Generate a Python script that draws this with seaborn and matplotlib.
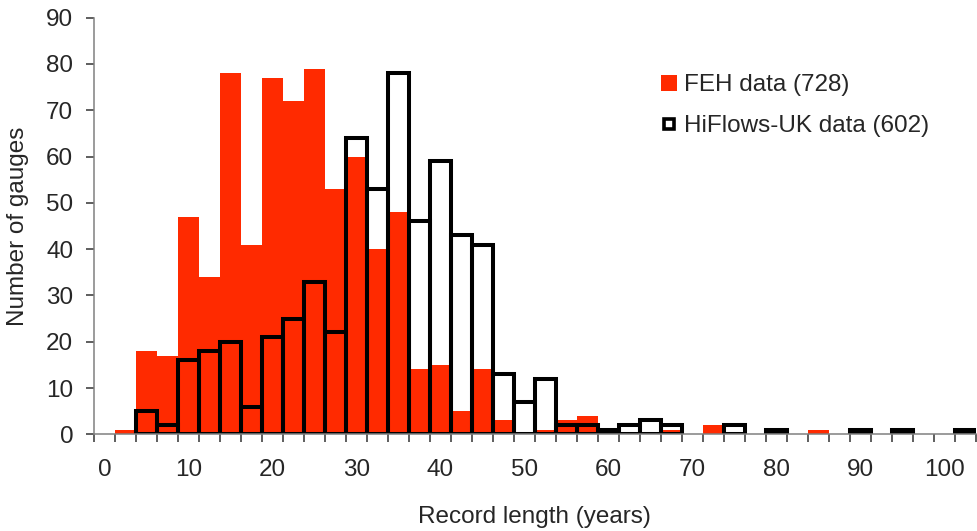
import matplotlib.pyplot as plt
from matplotlib.lines import Line2D
import numpy as np
import pandas as pd
import seaborn as sns

# Record-length classes (years), 2.5-year bins
record_length = [0.0, 2.5, 5.0, 7.5, 10.0, 12.5, 15.0, 17.5, 20.0, 22.5,
                 25.0, 27.5, 30.0, 32.5, 35.0, 37.5, 40.0, 42.5, 45.0, 47.5,
                 50.0, 52.5, 55.0, 57.5, 60.0, 62.5, 65.0, 67.5, 70.0, 72.5,
                 75.0, 77.5, 80.0, 82.5, 85.0, 87.5, 90.0, 92.5, 95.0, 97.5,
                 100.0, 102.5]

# Number of gauges per class
feh_counts = [0, 1, 18, 17, 47, 34, 78, 41, 77, 72,
              79, 53, 60, 40, 48, 14, 15, 5, 14, 3,
              0, 1, 3, 4, 0, 0, 0, 1, 0, 2,
              0, 0, 0, 0, 1, 0, 0, 0, 0, 0,
              0, 0]
hiflows_counts = [0, 0, 5, 2, 16, 18, 20, 6, 21, 25,
                  33, 22, 64, 53, 78, 46, 59, 43, 41, 13,
                  7, 12, 2, 2, 1, 2, 3, 2, 0, 0,
                  2, 0, 1, 0, 0, 0, 1, 0, 1, 0,
                  0, 1]

x_tick_labels = ["0", "10", "20", "30", "40", "50", "60", "70", "80", "90", "100"]
y_ticks = [0, 10, 20, 30, 40, 50, 60, 70, 80, 90]

FEH_RED = "#FF2A00"
AXIS_GREY = "#808080"
FONT_SIZE = 17.5

sns.set_theme(style="white")
plt.rcParams["font.family"] = ["Liberation Sans", "DejaVu Sans"]

classes = [f"{v:g}" for v in record_length]
df = pd.DataFrame({
    "record_length": classes,
    "feh": feh_counts,
    "hiflows": hiflows_counts,
})
# Excel does not draw empty classes, so leave zero counts out of the outline series
hiflows_df = df[df["hiflows"] > 0]

fig = plt.figure(figsize=(9.77, 5.31), dpi=100)
ax = fig.add_axes([94 / 977, (531 - 434.3) / 531, 882 / 977, 416.6 / 531])

sns.barplot(
    data=df,
    x="record_length",
    y="feh",
    order=classes,
    color=FEH_RED,
    saturation=1,
    width=1.0,
    linewidth=0,
    errorbar=None,
    ax=ax,
    zorder=2,
)
sns.barplot(
    data=hiflows_df,
    x="record_length",
    y="hiflows",
    order=classes,
    color="black",
    fill=False,
    width=1.0,
    linewidth=2.9,
    errorbar=None,
    ax=ax,
    zorder=3,
)

ax.set_xlim(-0.5, len(classes) - 0.5)
ax.set_ylim(0, 90)
ax.set_yticks(y_ticks)

# labels every fourth class, boundary ticks between classes
ax.set_xticks(np.arange(0, len(classes), 4))
ax.set_xticklabels(x_tick_labels)
ax.set_xticks(np.arange(-0.5, len(classes), 1), minor=True)
ax.tick_params(axis="x", which="major", length=0, pad=18, labelsize=FONT_SIZE)
ax.tick_params(axis="x", which="minor", length=6, width=1.1,
               color="#333333", direction="out", bottom=True)
ax.tick_params(axis="y", length=6, width=1.1, color="#333333",
               direction="out", left=True, pad=9, labelsize=FONT_SIZE)

ax.set_xlabel("Record length (years)", fontsize=FONT_SIZE)
ax.set_ylabel("Number of gauges", fontsize=FONT_SIZE)
ax.xaxis.set_label_coords(0.499, -0.172)
ax.yaxis.set_label_coords(-0.074, 0.5)

for side in ["top", "right"]:
    ax.spines[side].set_visible(False)
for side in ["left", "bottom"]:
    ax.spines[side].set_color(AXIS_GREY)
    ax.spines[side].set_linewidth(1.1)
    ax.spines[side].set_zorder(4)

handles = [
    Line2D([], [], linestyle="none", marker="s", markersize=11,
           markerfacecolor=FEH_RED, markeredgecolor=FEH_RED,
           markeredgewidth=0, label="FEH data (728)"),
    Line2D([], [], linestyle="none", marker="s", markersize=7.5,
           markerfacecolor="white", markeredgecolor="black",
           markeredgewidth=2.6, label="HiFlows-UK data (602)"),
]
ax.legend(
    handles=handles,
    loc="upper left",
    bbox_to_anchor=(661 / 977, 1 - 74 / 531),
    bbox_transform=fig.transFigure,
    frameon=False,
    borderpad=0,
    borderaxespad=0,
    handlelength=0.65,
    handletextpad=0.3,
    labelspacing=0.8,
    fontsize=FONT_SIZE,
)

fig.savefig("out.png", dpi=100)
plt.close(fig)
